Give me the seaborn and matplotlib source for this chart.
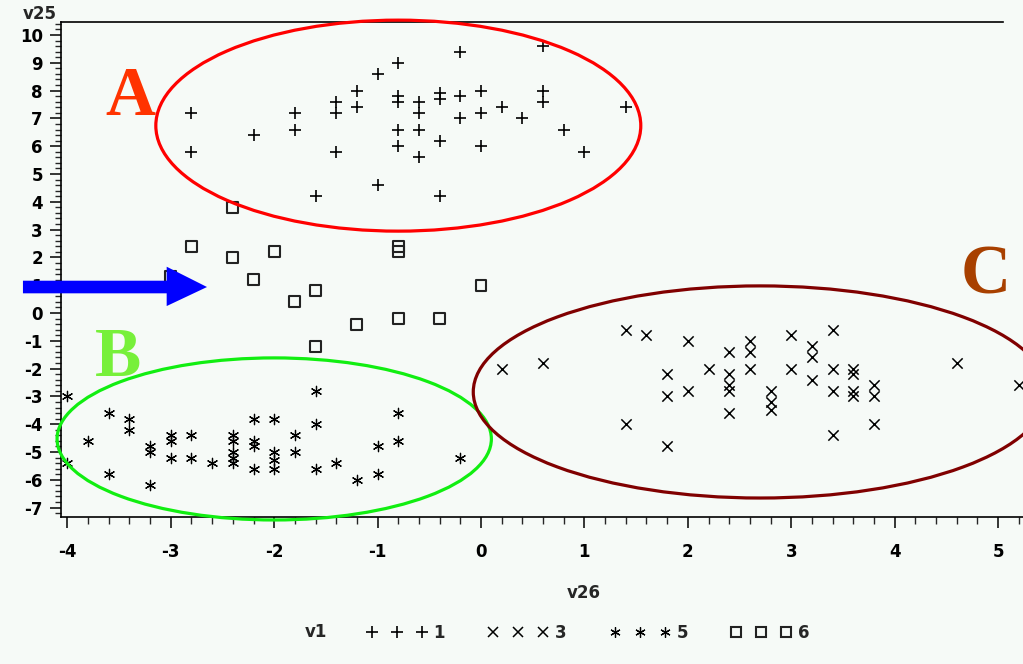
import matplotlib
matplotlib.use("Agg")
import matplotlib.pyplot as plt
import numpy as np
import pandas as pd
import seaborn as sns
from matplotlib.patches import Ellipse, Polygon
from matplotlib.lines import Line2D
from matplotlib.ticker import MultipleLocator

# ---- data: v26 (x) and v25 (y) for each v1 group ----
g1_v26 = [-2.8, -2.8, -2.2, -1.8, -1.8, -1.6, -1.4, -1.4, -1.4, -1.2, -1.2, -1.0, -1.0,
          -0.8, -0.8, -0.8, -0.8, -0.8, -0.6, -0.6, -0.6, -0.6, -0.4, -0.4, -0.4, -0.4,
          -0.2, -0.2, -0.2, 0.0, 0.0, 0.0, 0.2, 0.4, 0.6, 0.6, 0.6, 0.8, 1.0, 1.4]
g1_v25 = [7.2, 5.8, 6.4, 7.2, 6.6, 4.2, 7.6, 7.2, 5.8, 8.0, 7.4, 8.6, 4.6,
          9.0, 7.8, 7.6, 6.6, 6.0, 7.6, 7.2, 6.6, 5.6, 7.9, 7.7, 6.2, 4.2,
          9.4, 7.8, 7.0, 8.0, 7.2, 6.0, 7.4, 7.0, 9.6, 8.0, 7.6, 6.6, 5.8, 7.4]

g3_v26 = [0.2, 0.6, 1.4, 1.4, 1.6, 1.8, 1.8, 1.8, 2.0, 2.0, 2.2, 2.4, 2.4, 2.4, 2.4, 2.4,
          2.6, 2.6, 2.6, 2.8, 2.8, 2.8, 3.0, 3.0, 3.2, 3.2, 3.2, 3.4, 3.4, 3.4, 3.4,
          3.6, 3.6, 3.6, 3.6, 3.8, 3.8, 3.8, 4.6, 5.2]
g3_v25 = [-2.0, -1.8, -0.6, -4.0, -0.8, -2.2, -3.0, -4.8, -1.0, -2.8, -2.0, -1.4, -2.2, -2.6, -2.8, -3.6,
          -1.0, -1.4, -2.0, -2.8, -3.2, -3.5, -0.8, -2.0, -1.2, -1.6, -2.4, -0.6, -2.0, -2.8, -4.4,
          -2.0, -2.2, -2.8, -3.0, -2.6, -3.0, -4.0, -1.8, -2.6]

g5_v26 = [-4.0, -4.0, -3.8, -3.6, -3.6, -3.4, -3.4, -3.2, -3.2, -3.2, -3.0, -3.0, -3.0,
          -2.8, -2.8, -2.6, -2.4, -2.4, -2.4, -2.4, -2.4, -2.2, -2.2, -2.2, -2.2,
          -2.0, -2.0, -2.0, -2.0, -1.8, -1.8, -1.6, -1.6, -1.6, -1.4, -1.2, -1.0, -1.0,
          -0.8, -0.8, -0.2]
g5_v25 = [-3.0, -5.4, -4.6, -3.6, -5.8, -3.8, -4.2, -4.8, -5.0, -6.2, -4.4, -4.6, -5.2,
          -4.4, -5.2, -5.4, -4.4, -4.6, -5.0, -5.2, -5.4, -3.8, -4.6, -4.8, -5.6,
          -3.8, -5.0, -5.3, -5.6, -4.4, -5.0, -2.8, -4.0, -5.6, -5.4, -6.0, -4.8, -5.8,
          -3.6, -4.6, -5.2]

g6_v26 = [-2.4, -2.8, -2.4, -2.0, -2.2, -3.0, -1.6, -1.8, -0.8, -0.8, 0.0, -0.8, -0.4, -1.2, -1.6]
g6_v25 = [3.8, 2.4, 2.0, 2.2, 1.2, 1.3, 0.8, 0.4, 2.4, 2.2, 1.0, -0.2, -0.2, -0.4, -1.2]

groups = ["1", "3", "5", "6"]
x_ticks = list(range(-4, 6))
y_ticks = list(range(-7, 11))

df = pd.concat([
    pd.DataFrame({"v26": g1_v26, "v25": g1_v25, "v1": "1"}),
    pd.DataFrame({"v26": g3_v26, "v25": g3_v25, "v1": "3"}),
    pd.DataFrame({"v26": g5_v26, "v25": g5_v25, "v1": "5"}),
    pd.DataFrame({"v26": g6_v26, "v25": g6_v25, "v1": "6"}),
], ignore_index=True)

# ---- style ----
sns.set_style("ticks")
BG = "#f6faf7"
plt.rcParams["font.family"] = ["DejaVu Sans"]
plt.rcParams["font.weight"] = "bold"
plt.rcParams["axes.unicode_minus"] = False

fig = plt.figure(figsize=(10.23, 6.64), dpi=100, facecolor=BG)
ax = fig.add_axes([61 / 1023, (664 - 517) / 664, 1045 / 1023, 495 / 664])
ax.set_facecolor(BG)

# marker styles per group
ASTERISK = (6, 2, 0)
marker_kw = {
    "1": dict(marker="+", s=70, linewidths=1.2, color="black"),
    "3": dict(marker="x", s=55, linewidths=1.1, color="black"),
    "5": dict(marker=ASTERISK, s=55, linewidths=0.9, color="black"),
    "6": dict(marker="s", s=62, linewidths=1.5, facecolor="none", edgecolor="#222222"),
}

for g in groups:
    sub = df[df["v1"] == g]
    sns.scatterplot(data=sub, x="v26", y="v25", ax=ax, legend=False,
                    zorder=3, **marker_kw[g])

# ---- axes ----
ax.set_xlim(-4.062, 6.044)
ax.set_ylim(-7.338, 10.468)
ax.set_xticks(x_ticks)
ax.set_yticks(y_ticks)
ax.xaxis.set_minor_locator(MultipleLocator(0.2))
ax.yaxis.set_minor_locator(MultipleLocator(0.2))

for side in ["left", "bottom", "top"]:
    ax.spines[side].set_linewidth(1.2)
    ax.spines[side].set_color("black")
ax.spines["right"].set_visible(False)
ax.spines["top"].set_bounds(-4.062, 5.05)

ax.tick_params(axis="x", which="major", length=8, width=1.1, direction="out",
               labelsize=12, pad=11, colors="black")
ax.tick_params(axis="x", which="minor", length=5, width=1.0, direction="out")
ax.tick_params(axis="y", which="major", length=8, width=1.1, direction="out",
               labelsize=12, pad=5, colors="black")
ax.tick_params(axis="y", which="minor", length=4, width=1.0, direction="out")
for lab in ax.get_xticklabels() + ax.get_yticklabels():
    lab.set_fontweight("bold")

ax.set_xlabel("v26", fontsize=12, fontweight="bold")
ax.xaxis.set_label_coords(0.5, -0.135)
ax.set_ylabel("v25", fontsize=12, fontweight="bold", rotation=0, ha="center", va="center")
ax.yaxis.set_label_coords(-0.02, 1.017)

# ---- cluster outlines ----
ax.add_patch(Ellipse((-0.80, 6.74), 4.69, 7.59, fill=False, edgecolor="#ff0000",
                     linewidth=2.3, clip_on=False, zorder=4))
ax.add_patch(Ellipse((-2.00, -4.53), 4.20, 5.83, fill=False, edgecolor="#11ee11",
                     linewidth=2.3, clip_on=False, zorder=4))
ax.add_patch(Ellipse((2.70, -2.84), 5.55, 7.63, fill=False, edgecolor="#800000",
                     linewidth=2.3, clip_on=False, zorder=4))

# cluster letters
letter_kw = dict(fontfamily="Liberation Serif", fontweight="bold", fontsize=50,
                 ha="center", va="center", zorder=5, clip_on=False)
ax.text(-3.39, 7.75, "A", color="#ff3300", **letter_kw)
ax.text(-3.51, -1.65, "B", color="#77f03a", **letter_kw)
ax.text(4.88, 1.30, "C", color="#a84000", **letter_kw)

# blue arrow pointing at the outlying squares
arrow = Polygon([(-4.43, 0.708), (-3.04, 0.708), (-3.04, 0.25), (-2.65, 0.935),
                 (-3.04, 1.665), (-3.04, 1.162), (-4.43, 1.162)],
                closed=True, facecolor="#0000ff", edgecolor="none",
                clip_on=False, zorder=6)
ax.add_patch(arrow)

# ---- legend ----
handles = [
    Line2D([], [], ls="none", marker="+", ms=8.4, mew=1.2, color="black"),
    Line2D([], [], ls="none", marker="x", ms=7.4, mew=1.1, color="black"),
    Line2D([], [], ls="none", marker=ASTERISK, ms=7.4, mew=0.9, color="black"),
    Line2D([], [], ls="none", marker="s", ms=7.9, mew=1.5, mfc="none", mec="#222222"),
]
leg = fig.legend(handles, groups, loc="center", bbox_to_anchor=(588 / 1023, 31 / 664),
                 ncol=4, frameon=False, numpoints=3, handlelength=3.6,
                 handletextpad=0.4, columnspacing=2.6,
                 prop={"weight": "bold", "size": 12})
fig.text(316 / 1023, 32 / 664, "v1", fontsize=12, fontweight="bold",
         ha="center", va="center")

fig.savefig("out.png", dpi=100, facecolor=BG)
